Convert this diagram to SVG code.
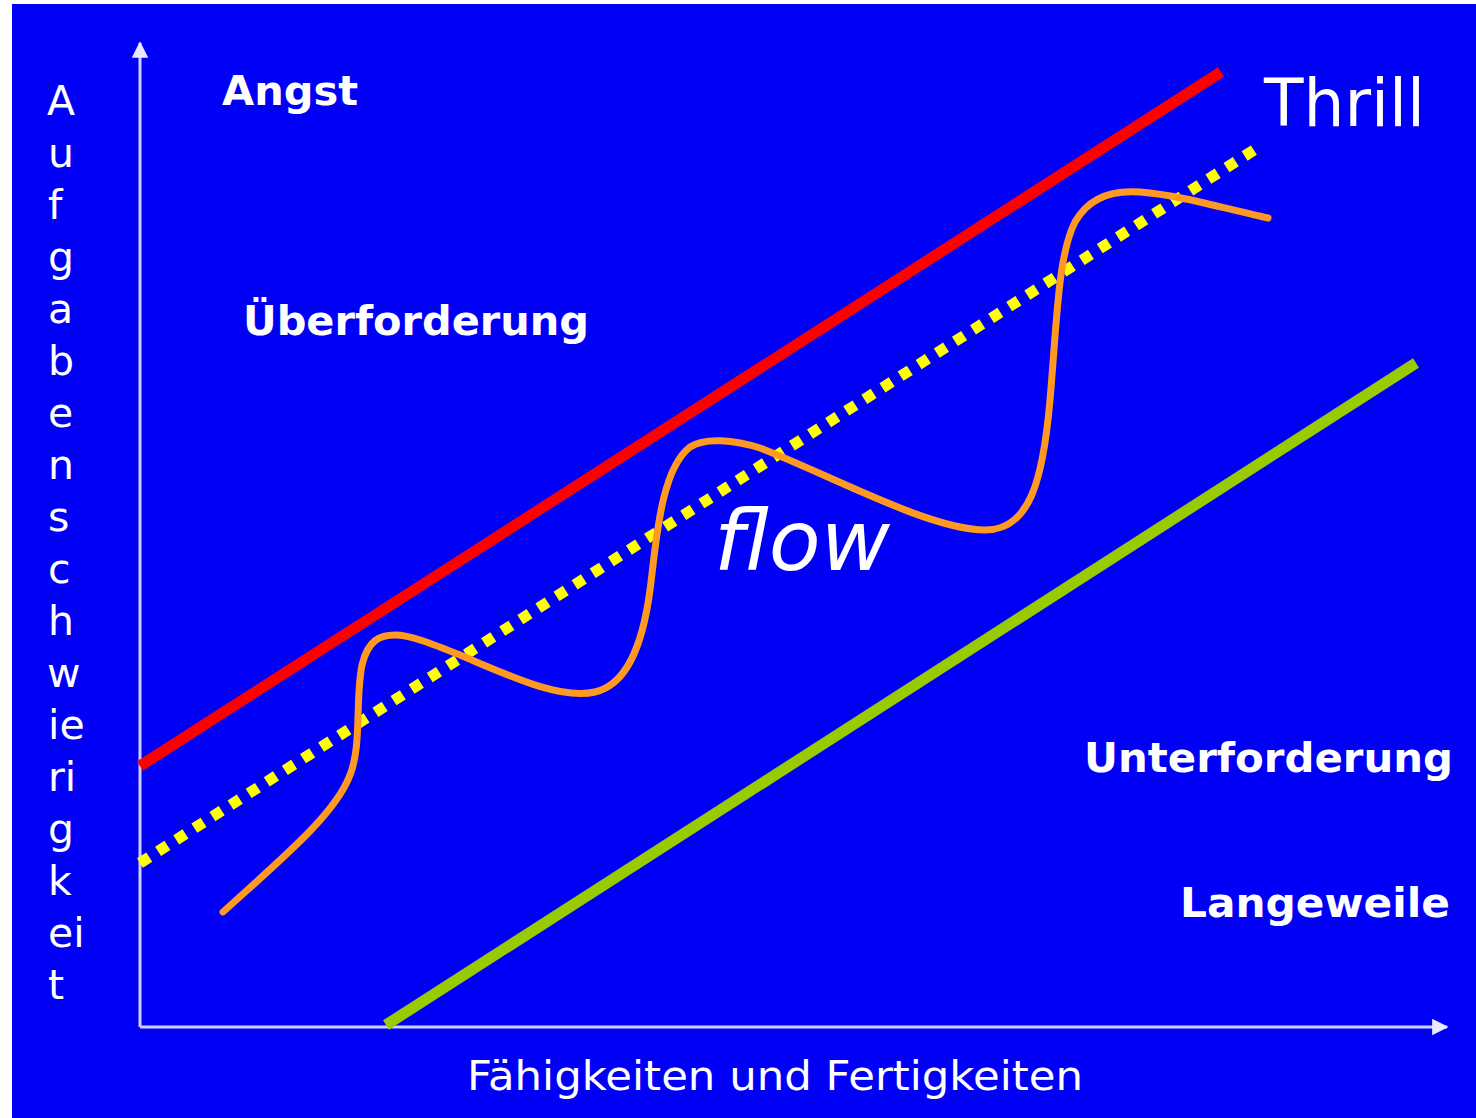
<svg xmlns="http://www.w3.org/2000/svg" width="1476" height="1118" viewBox="0 0 1476 1118">
<style>
.lbl{font-family:"DejaVu Sans","Verdana",sans-serif;fill:#ffffff}
.b{font-weight:bold;font-size:41px}
.ax{font-size:41px}
.axis{stroke:#d0d0ff;stroke-width:3;fill:none}
</style>
<defs>
<marker id="arr" viewBox="0 0 10 10" refX="9" refY="5" markerWidth="5.5" markerHeight="5.5" markerUnits="strokeWidth" orient="auto">
<path d="M0,0 L10,5 L0,10 z" fill="#e8e8ff"/>
</marker>
</defs>
<rect x="0" y="0" width="1476" height="1118" fill="#ffffff"/>
<rect x="12" y="4" width="1464" height="1114" fill="#0000f6"/>
<g id="axes">
<line class="axis" x1="140" y1="1027" x2="140" y2="43" marker-end="url(#arr)"/>
<line class="axis" x1="140" y1="1027" x2="1447" y2="1027" marker-end="url(#arr)"/>
</g>
<g id="connectors">
<line id="red" x1="140" y1="766" x2="1221" y2="72" stroke="#ff0000" stroke-width="11"/>
<line id="yellow" x1="140" y1="863" x2="1254" y2="150" stroke="#ffff00" stroke-width="11" stroke-dasharray="11 10.5"/>
<line id="green" x1="386" y1="1025" x2="1416" y2="363" stroke="#99cc00" stroke-width="11"/>
<path id="orange" d="M223 912 C280 860 335 815 350 775 C362 745 355 700 362 665 C368 640 380 635 395 635 C410 635 430 643 460 655 C510 676 560 700 595 692 C625 685 642 650 650 590 C656 545 660 470 690 447 C705 437 735 440 760 448 C830 475 930 530 985 530 C1030 530 1043 480 1050 400 C1057 320 1058 255 1075 222 C1090 195 1115 190 1140 192 C1180 195 1230 210 1268 218" fill="none" stroke="#ff9922" stroke-width="7" stroke-linecap="round" stroke-linejoin="round"/>
</g>
<g id="angst"><text class="lbl b" x="222" y="105" textLength="136" lengthAdjust="spacingAndGlyphs">Angst</text></g>
<g id="ueberforderung"><text class="lbl b" x="243" y="335" textLength="346" lengthAdjust="spacingAndGlyphs">Überforderung</text></g>
<g id="unterforderung"><text class="lbl b" x="1084" y="772" textLength="369" lengthAdjust="spacingAndGlyphs">Unterforderung</text></g>
<g id="langeweile"><text class="lbl b" x="1180" y="917" textLength="270" lengthAdjust="spacingAndGlyphs">Langeweile</text></g>
<g id="thrill"><text class="lbl" x="1264" y="126" font-size="66" textLength="161" lengthAdjust="spacingAndGlyphs">Thrill</text></g>
<g id="flow"><text class="lbl" x="714" y="570" font-size="84" font-style="italic" textLength="176" lengthAdjust="spacingAndGlyphs">flow</text></g>
<g id="xlabel"><text class="lbl ax" x="467" y="1090" textLength="616" lengthAdjust="spacingAndGlyphs">Fähigkeiten und Fertigkeiten</text></g>
<g id="ylabel">
<text class="lbl ax" x="47" y="115">A</text>
<text class="lbl ax" x="48" y="167">u</text>
<text class="lbl ax" x="48" y="219">f</text>
<text class="lbl ax" x="48" y="271">g</text>
<text class="lbl ax" x="48" y="323">a</text>
<text class="lbl ax" x="48" y="375">b</text>
<text class="lbl ax" x="48" y="427">e</text>
<text class="lbl ax" x="48" y="479">n</text>
<text class="lbl ax" x="48" y="531">s</text>
<text class="lbl ax" x="48" y="583">c</text>
<text class="lbl ax" x="48" y="635">h</text>
<text class="lbl ax" x="47" y="687">w</text>
<text class="lbl ax" x="48" y="739">ie</text>
<text class="lbl ax" x="48" y="791">ri</text>
<text class="lbl ax" x="48" y="843">g</text>
<text class="lbl ax" x="48" y="895">k</text>
<text class="lbl ax" x="48" y="947">ei</text>
<text class="lbl ax" x="48" y="999">t</text>
</g>
</svg>
